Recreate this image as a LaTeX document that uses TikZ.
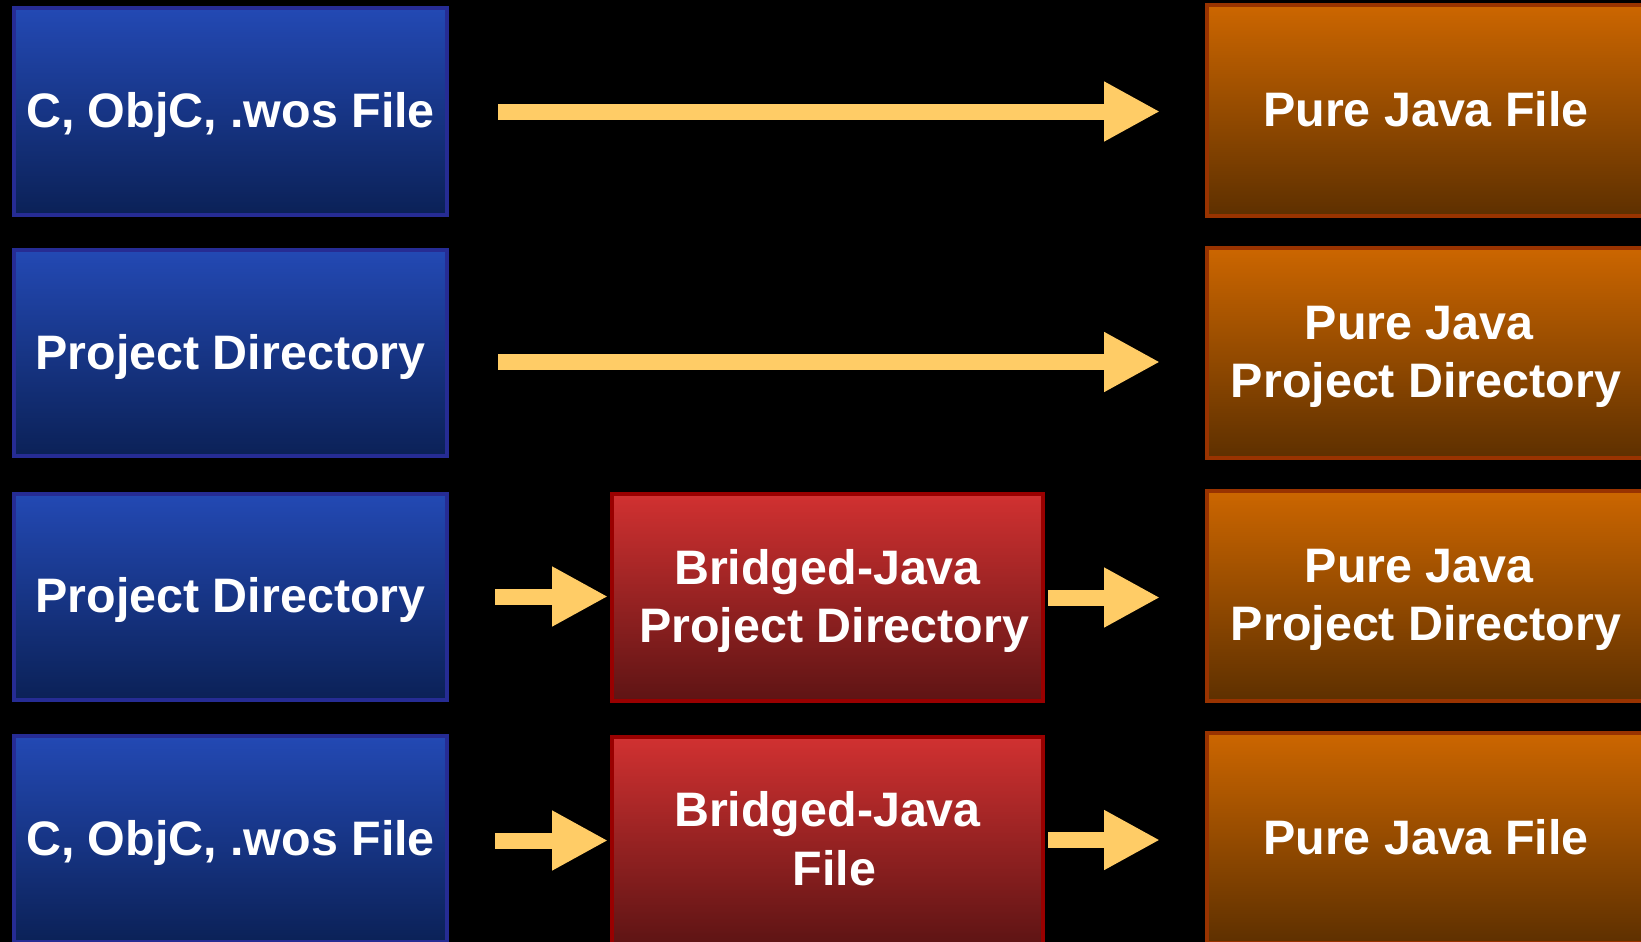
\documentclass[tikz,border=0pt]{standalone}
\usepackage{fontspec}
\setmainfont{Liberation Sans}
\usetikzlibrary{arrows.meta}

\definecolor{srctop}{HTML}{2349B4}
\definecolor{srcbot}{HTML}{0B2157}
\definecolor{srcedge}{HTML}{262C94}
\definecolor{midtop}{HTML}{D13131}
\definecolor{midbot}{HTML}{5E1414}
\definecolor{midedge}{HTML}{990000}
\definecolor{outtop}{HTML}{CC6600}
\definecolor{outbot}{HTML}{5E3000}
\definecolor{outedge}{HTML}{993300}
\definecolor{flowgold}{HTML}{FFCC66}

% uniform line box so that every label centres on its capitals
\newcommand\labelstrut{\rule[-10.5pt]{0pt}{53pt}}
\newcommand\wordgap{\hspace*{0.278em}}

\begin{document}
\begin{tikzpicture}[x=1pt,y=-1pt,
  box/.style={draw, line width=4pt, text=white, align=center, inner sep=0pt,
    font=\bfseries\fontsize{48.4}{58.5}\selectfont},
  srcbox/.style={box, draw=srcedge, top color=srctop, bottom color=srcbot,
    minimum width=433pt, minimum height=206pt},
  midbox/.style={box, draw=midedge, top color=midtop, bottom color=midbot,
    minimum width=431pt, minimum height=207pt},
  outbox/.style={box, draw=outedge, top color=outtop, bottom color=outbot,
    minimum width=439pt, minimum height=210pt},
  flow/.style={draw=flowgold, line width=16pt,
    -{Triangle[length=56pt,width=56pt]}}
]
\useasboundingbox (0,0) rectangle (1641,942);
\fill[black] (0,0) rectangle (1641,942);
\clip (0,0) rectangle (1641,942);

% source column
\node[srcbox] (b1) at (230.5,111.5) {\labelstrut C, ObjC, .wos File};
\node[srcbox] (b2) at (230.5,353)   {\labelstrut Project Directory};
\node[srcbox] (b3) at (230.5,596.5) {\labelstrut Project Directory};
\node[srcbox] (b4) at (230.5,839)   {\labelstrut C, ObjC, .wos File};

% intermediate column
\node[midbox] (r3) at (827.5,597.5)
  {\labelstrut Bridged-Java\\\labelstrut\wordgap Project Directory};
\node[midbox] (r4) at (827.5,840)
  {\labelstrut Bridged-Java\\\labelstrut\wordgap File};

% output column
\node[outbox] (o1) at (1426,110.5) {\labelstrut Pure Java File};
\node[outbox] (o2) at (1426,352.5)
  {\labelstrut Pure Java\wordgap\\\labelstrut Project Directory};
\node[outbox] (o3) at (1426,595.5)
  {\labelstrut Pure Java\wordgap\\\labelstrut Project Directory};
\node[outbox] (o4) at (1426,838)   {\labelstrut Pure Java File};

% conversions
\draw[flow, shorten <=49pt, shorten >=44.5pt] (b1.east) -- (b1.east -| o1.west);
\draw[flow, shorten <=49pt, shorten >=44.5pt]
  ([yshift=-9pt]b2.east) -- ([yshift=-9pt]b2.east -| o2.west);
\draw[flow, shorten <=46pt, shorten >=2pt] (b3.east) -- (b3.east -| r3.west);
\draw[flow, shorten <=3pt, shorten >=44.5pt] (r3.east) -- (r3.east -| o3.west);
\draw[flow, shorten <=46pt, shorten >=2pt]
  ([yshift=-1.5pt]b4.east) -- ([yshift=-1.5pt]b4.east -| r4.west);
\draw[flow, shorten <=3pt, shorten >=44.5pt] (r4.east) -- (r4.east -| o4.west);
\end{tikzpicture}
\end{document}
